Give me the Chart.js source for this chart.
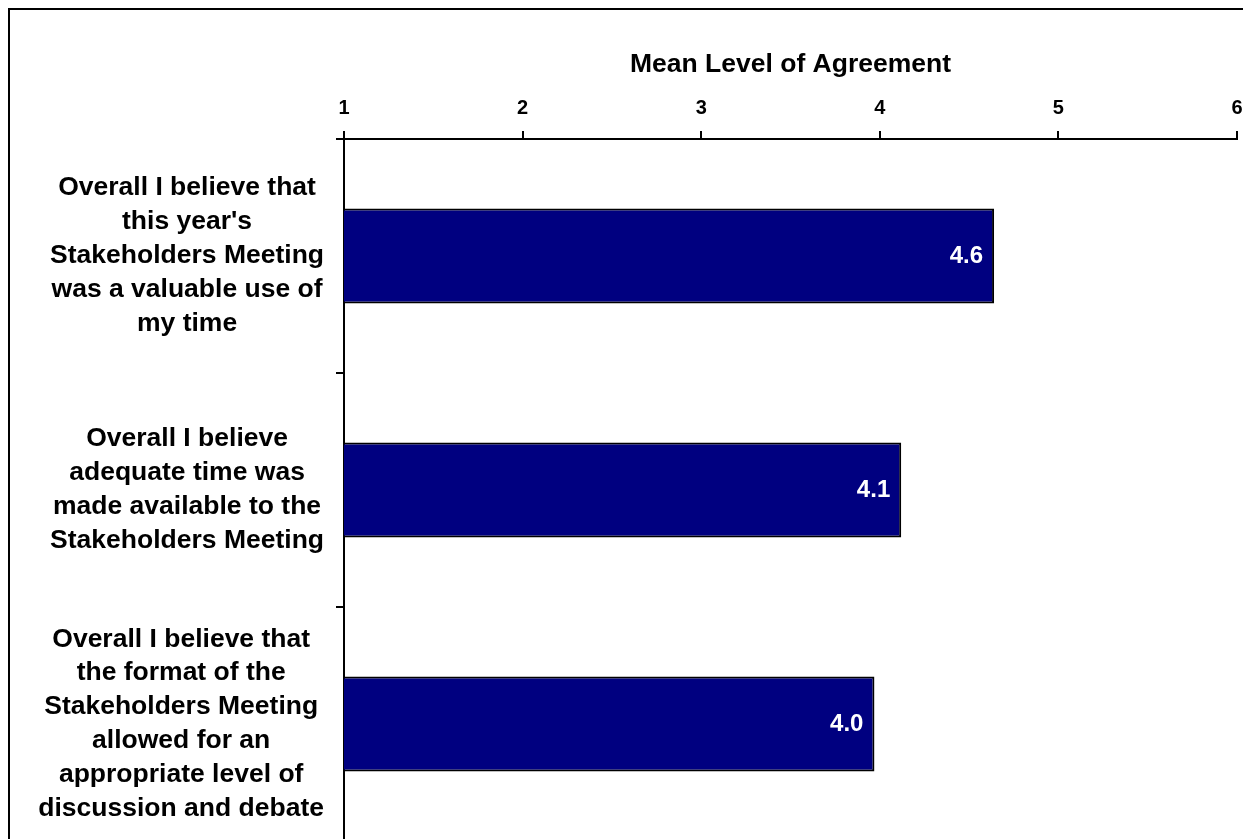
<!DOCTYPE html>
<html><head><meta charset="utf-8">
<script src="https://cdn.jsdelivr.net/npm/chart.js@4"></script>
<style>
html,body{margin:0;padding:0;overflow:hidden;background:#fff;width:1243px;height:839px;}
#frame{position:absolute;left:8px;top:8px;width:1300px;height:900px;border-left:2px solid #000;border-top:2px solid #000;}
canvas{position:absolute;left:0;top:0;}
</style></head><body>
<div id="frame"></div>
<canvas id="c" width="1243" height="850"></canvas>
<script>
const categories = [
  ["Overall I believe that", "this year's", "Stakeholders Meeting", "was a valuable use of", "my time"],
  ["Overall I believe", "adequate time was", "made available to the", "Stakeholders Meeting"],
  ["Overall I believe that", "the format of the", "Stakeholders Meeting", "allowed for an", "appropriate level of", "discussion and debate"]
];
const meanValues = [4.64, 4.12, 3.97];
const xTicks = [1, 2, 3, 4, 5, 6];
const axisTitle = "Mean Level of Agreement";

const FAMILY = '"Liberation Sans", Arial, Helvetica, sans-serif';
const Y_FONT_SIZE = 26.5;
const Y_TICK_LEN = 8;
const Y_PAD = 12;

// Value labels inside the bar ends, placed from the bar elements' own positions
const valueLabels = {
  id: 'valueLabels',
  afterDatasetsDraw(chart) {
    const ctx = chart.ctx;
    const meta = chart.getDatasetMeta(0);
    ctx.save();
    ctx.font = 'bold 24px ' + FAMILY;
    ctx.fillStyle = '#ffffff';
    ctx.textAlign = 'right';
    ctx.textBaseline = 'middle';
    meta.data.forEach((bar, i) => {
      ctx.fillText(meanValues[i].toFixed(1), bar.x - 11, bar.y);
    });
    ctx.restore();
  }
};

// Centre each category label block within its own widest line (right edge next to the axis)
const blockCenter = {
  id: 'blockCenter',
  beforeDraw(chart) {
    const s = chart.scales.y;
    const items = s.getLabelItems(chart.chartArea);
    const ctx = chart.ctx;
    ctx.save();
    ctx.font = 'bold ' + Y_FONT_SIZE + 'px ' + FAMILY;
    items.forEach((it, i) => {
      const lines = Array.isArray(it.label) ? it.label : [it.label];
      const w = Math.max(...lines.map(l => ctx.measureText(l).width));
      it.options.translation[0] = s.right - Y_TICK_LEN - Y_PAD - w / 2;
      it.options.textAlign = 'center';
    });
    ctx.restore();
  }
};

new Chart(document.getElementById('c'), {
  type: 'bar',
  data: {
    labels: categories,
    datasets: [{
      data: meanValues,
      backgroundColor: '#000080',
      borderColor: '#000000',
      borderWidth: 2,
      borderSkipped: false,
      barPercentage: 0.405,
      categoryPercentage: 1
    }]
  },
  options: {
    indexAxis: 'y',
    responsive: false,
    animation: false,
    devicePixelRatio: 1,
    layout: { padding: { left: 0, right: 6, top: 49, bottom: 9 } },
    plugins: { legend: { display: false }, tooltip: { enabled: false } },
    scales: {
      x: {
        position: 'top',
        min: xTicks[0],
        max: xTicks[xTicks.length - 1],
        afterBuildTicks(s) { s.ticks = xTicks.map(v => ({ value: v })); },
        ticks: { color: '#000', font: { family: FAMILY, size: 20, weight: 'bold' }, padding: 11 },
        grid: { drawOnChartArea: false, drawTicks: true, tickLength: 8, color: '#000', lineWidth: 2 },
        border: { color: '#000', width: 2 },
        title: { display: true, text: axisTitle, color: '#000', font: { family: FAMILY, size: 26.5, weight: 'bold' }, padding: { top: 0, bottom: 17 } },
        afterFit(s) { s.height = 90; s.paddingLeft = 0; s.paddingRight = 0; }
      },
      y: {
        ticks: { color: '#000', font: { family: FAMILY, size: Y_FONT_SIZE, weight: 'bold', lineHeight: 1.28 }, padding: Y_PAD, crossAlign: 'center', autoSkip: false },
        grid: { drawOnChartArea: false, drawTicks: true, tickLength: Y_TICK_LEN, color: '#000', lineWidth: 2, offset: true },
        border: { color: '#000', width: 2 },
        afterFit(s) { s.width = 344; s.paddingTop = 0; s.paddingBottom = 0; }
      }
    }
  },
  plugins: [valueLabels, blockCenter]
});
</script>
</body></html>
